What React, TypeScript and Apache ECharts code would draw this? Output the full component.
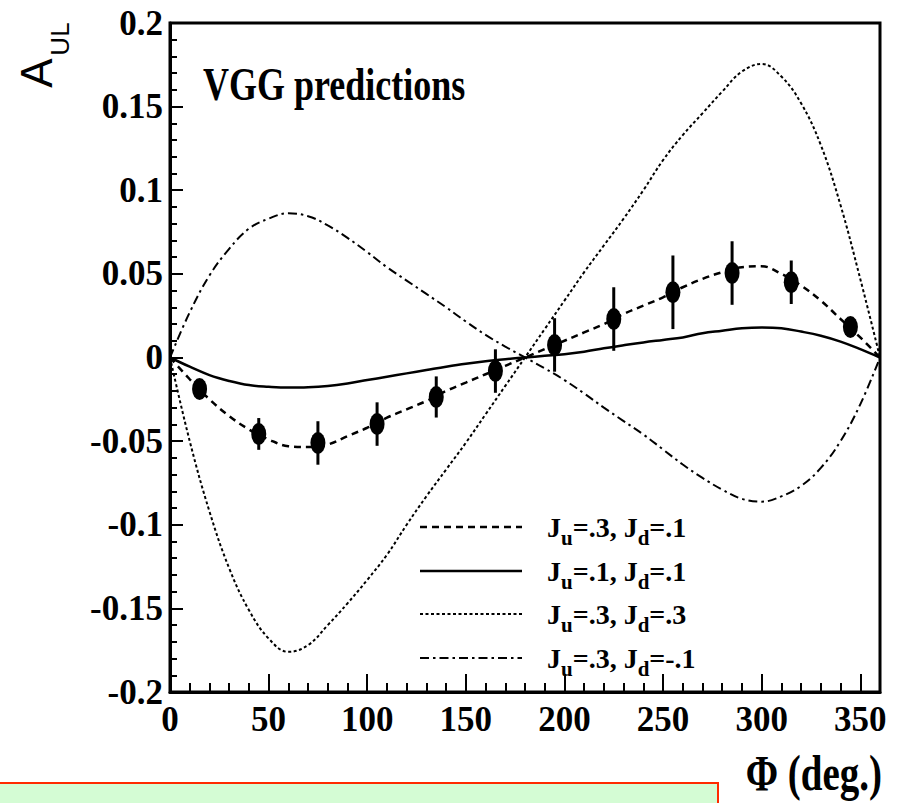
import React, { useEffect, useRef } from 'react';
import * as echarts from 'echarts';

// ---- data ----
const phiGrid = [0, 10, 20, 30, 40, 50, 60, 70, 80, 90, 100, 110, 120, 130, 140, 150, 160, 170, 180,
  190, 200, 210, 220, 230, 240, 250, 260, 270, 280, 290, 300, 310, 320, 330, 340, 350, 360];

// J_u=.3, J_d=.1 (dashed, through the data)
const curveJu3Jd1 = [0, -0.013, -0.025, -0.035, -0.043, -0.049, -0.053, -0.0535, -0.052, -0.047, -0.042,
  -0.036, -0.031, -0.026, -0.020, -0.015, -0.010, -0.005, 0, 0.005, 0.010, 0.015, 0.020, 0.026, 0.031,
  0.036, 0.042, 0.047, 0.051, 0.054, 0.0545, 0.050, 0.043, 0.034, 0.023, 0.012, 0];

// J_u=.1, J_d=.1 (solid)
const curveJu1Jd1 = [0, -0.0055, -0.0105, -0.014, -0.0165, -0.0175, -0.018, -0.0178, -0.017, -0.0155,
  -0.0135, -0.0115, -0.0095, -0.0075, -0.0055, -0.0037, -0.0022, -0.001, 0, 0.001, 0.002, 0.0035, 0.0055,
  0.0073, 0.009, 0.0105, 0.012, 0.0145, 0.016, 0.0175, 0.018, 0.0175, 0.0155, 0.013, 0.0095, 0.005, 0];

// J_u=.3, J_d=.3 (dotted)
const curveJu3Jd3 = [0, -0.050, -0.092, -0.126, -0.151, -0.168, -0.176, -0.172, -0.160, -0.147, -0.133,
  -0.118, -0.100, -0.083, -0.067, -0.051, -0.034, -0.017, 0, 0.017, 0.034, 0.051, 0.067, 0.083, 0.100,
  0.118, 0.133, 0.146, 0.159, 0.171, 0.1755, 0.168, 0.152, 0.127, 0.091, 0.047, 0];

// J_u=.3, J_d=-.1 (dash-dot)
const curveJu3JdM1 = [0, 0.027, 0.049, 0.065, 0.077, 0.083, 0.0862, 0.0845, 0.079, 0.0715, 0.063, 0.054,
  0.046, 0.038, 0.030, 0.0215, 0.0135, 0.0065, 0, -0.0065, -0.0135, -0.0215, -0.030, -0.038, -0.046,
  -0.055, -0.064, -0.072, -0.079, -0.0845, -0.0862, -0.083, -0.0768, -0.066, -0.050, -0.028, 0];

// measured points
const dataPhi = [15, 45, 75, 105, 135, 165, 195, 225, 255, 285, 315, 345];
const dataVal = [-0.0188, -0.0457, -0.0511, -0.0398, -0.0236, -0.0081, 0.0075, 0.023, 0.039, 0.0505, 0.045, 0.0182];
const dataErr = [0.004, 0.0095, 0.013, 0.013, 0.0123, 0.013, 0.016, 0.019, 0.022, 0.019, 0.013, 0.005];

const seriesNames = ['J_u=.3, J_d=.1', 'J_u=.1, J_d=.1', 'J_u=.3, J_d=.3', 'J_u=.3, J_d=-.1'];
const xTickLabels = ['0', '50', '100', '150', '200', '250', '300', '350'];
const yTickLabels = ['-0.2', '-0.15', '-0.1', '-0.05', '0', '0.05', '0.1', '0.15', '0.2'];

const SERIF = "'Liberation Serif', 'Times New Roman', serif";
const SANS = "'Liberation Sans', Arial, sans-serif";

const lineStyles = [
  { width: 2.5, dash: [7, 5] as number[] | null },
  { width: 2.5, dash: null },
  { width: 2, dash: [3, 2.5] },
  { width: 2, dash: [9, 4, 2.5, 4] },
];

const toRich = (name: string) =>
  '{m|' + name.replace(/_(\w)/g, '}{s|$1}{m|') + '}';

export default function App() {
  const ref = useRef<HTMLDivElement>(null);

  useEffect(() => {
    if (!ref.current) return;
    const chart = echarts.init(ref.current, undefined, { renderer: 'svg' });
    const curves = [curveJu3Jd1, curveJu1Jd1, curveJu3Jd3, curveJu3JdM1];

    const lineSeries = curves.map((c, i) => ({
      type: 'line',
      name: seriesNames[i],
      data: phiGrid.map((p, k) => [p, c[k]]),
      showSymbol: false,
      symbol: 'none',
      smooth: 0.4,
      xAxisIndex: 0,
      yAxisIndex: 0,
      z: 2,
      lineStyle: {
        color: '#000',
        width: lineStyles[i].width,
        type: lineStyles[i].dash ? lineStyles[i].dash : 'solid',
      },
    }));

    const legendRowsY = [527, 571, 614, 658];
    const legendGraphics: any[] = [];
    seriesNames.forEach((n, i) => {
      legendGraphics.push({
        type: 'line',
        shape: { x1: 420, y1: legendRowsY[i], x2: 522, y2: legendRowsY[i] },
        style: {
          stroke: '#000',
          lineWidth: lineStyles[i].width,
          lineDash: lineStyles[i].dash || undefined,
        },
      });
      legendGraphics.push({
        type: 'text',
        x: 547,
        y: legendRowsY[i],
        style: {
          text: toRich(n),
          verticalAlign: 'middle',
          align: 'left',
          fill: '#000',
          rich: {
            m: { fontFamily: SERIF, fontWeight: 'bold', fontSize: 28, lineHeight: 28, fill: '#000' },
            s: { fontFamily: SERIF, fontWeight: 'bold', fontSize: 21, lineHeight: 20, padding: [22, 0, 0, 0], fill: '#000' },
          },
        },
      });
    });

    const option: any = {
      animation: false,
      backgroundColor: '#fff',
      grid: {
        left: 170, right: 21, top: 23, bottom: 111,
        show: true, borderColor: '#000', borderWidth: 3, backgroundColor: 'transparent',
      },
      xAxis: [
        {
          type: 'value', min: 0, max: 360, interval: 50, position: 'bottom',
          axisLine: { show: true, onZero: false, lineStyle: { color: '#000', width: 3 } },
          axisTick: { show: true, inside: true, length: 18, lineStyle: { color: '#000', width: 2 } },
          axisLabel: {
            show: true, margin: 10, color: '#000', fontFamily: SERIF, fontWeight: 'bold', fontSize: 35,
            showMaxLabel: false,
            formatter: (v: number) => (xTickLabels.includes(String(Math.round(v))) ? String(Math.round(v)) : ''),
          },
          splitLine: { show: false },
        },
        {
          type: 'value', min: 0, max: 360, interval: 10, position: 'bottom',
          axisLine: { show: false, onZero: false },
          axisTick: { show: true, inside: true, length: 9, lineStyle: { color: '#000', width: 2 } },
          axisLabel: { show: false },
          splitLine: { show: false },
        },
      ],
      yAxis: [
        {
          type: 'value', min: -0.2, max: 0.2, interval: 0.05, position: 'left',
          axisLine: { show: true, onZero: false, lineStyle: { color: '#000', width: 3 } },
          axisTick: { show: true, inside: true, length: 13, lineStyle: { color: '#000', width: 2 } },
          axisLabel: {
            show: true, margin: 7, color: '#000', fontFamily: SERIF, fontWeight: 'bold', fontSize: 35,
            formatter: (v: number) => {
              const s = String(Math.round(v * 100) / 100);
              return yTickLabels.includes(s) ? s : '';
            },
          },
          splitLine: { show: false },
        },
        {
          type: 'value', min: -0.2, max: 0.2, interval: 0.01, position: 'left',
          axisLine: { show: false, onZero: false },
          axisTick: { show: true, inside: true, length: 7, lineStyle: { color: '#000', width: 2 } },
          axisLabel: { show: false },
          splitLine: { show: false },
        },
      ],
      series: [
        ...lineSeries,
        {
          type: 'custom',
          name: 'errors',
          xAxisIndex: 0,
          yAxisIndex: 0,
          z: 3,
          encode: { x: 0, y: 1 },
          data: dataPhi.map((p, i) => [p, dataVal[i], dataErr[i]]),
          renderItem: (params: any, api: any) => {
            const x = api.value(0);
            const y = api.value(1);
            const e = api.value(2);
            const p1 = api.coord([x, y - e]);
            const p2 = api.coord([x, y + e]);
            return {
              type: 'line',
              shape: { x1: p1[0], y1: p1[1], x2: p2[0], y2: p2[1] },
              style: { stroke: '#000', lineWidth: 3 },
            };
          },
        },
        {
          type: 'scatter',
          name: 'data',
          xAxisIndex: 0,
          yAxisIndex: 0,
          z: 4,
          symbol: 'path://M1,0A1,1,0,1,1,-1,0A1,1,0,1,1,1,0Z',
          symbolSize: [15, 22],
          itemStyle: { color: '#000', opacity: 1 },
          data: dataPhi.map((p, i) => [p, dataVal[i]]),
        },
      ],
      graphic: [
        {
          type: 'text', x: 36, y: 73, rotation: Math.PI / 2,
          style: { text: 'A', fontFamily: SANS, fontSize: 44, fill: '#000', align: 'center', verticalAlign: 'middle' },
        },
        {
          type: 'text', x: 60, y: 39, rotation: Math.PI / 2,
          style: { text: 'UL', fontFamily: SANS, fontSize: 26, fill: '#000', align: 'center', verticalAlign: 'middle' },
        },
        {
          type: 'text', x: 203, y: 84, scaleY: 1.3,
          style: { text: 'VGG predictions', fontFamily: SERIF, fontWeight: 'bold', fontSize: 36, fill: '#000', align: 'left', verticalAlign: 'middle' },
        },
        {
          type: 'text', x: 882, y: 773, scaleY: 1.3,
          style: { text: 'Φ (deg.)', fontFamily: SERIF, fontWeight: 'bold', fontSize: 39, fill: '#000', align: 'right', verticalAlign: 'middle' },
        },
        {
          type: 'rect', shape: { x: -2, y: 783, width: 720, height: 40 },
          style: { fill: '#d4fcd4', stroke: '#ff2a00', lineWidth: 2 },
        },
        ...legendGraphics,
      ],
    };

    chart.setOption(option);
    return () => chart.dispose();
  }, []);

  return (
    <div
      ref={ref}
      style={{ position: 'fixed', left: 0, top: 0, width: 901, height: 803, background: '#fff' }}
    />
  );
}
